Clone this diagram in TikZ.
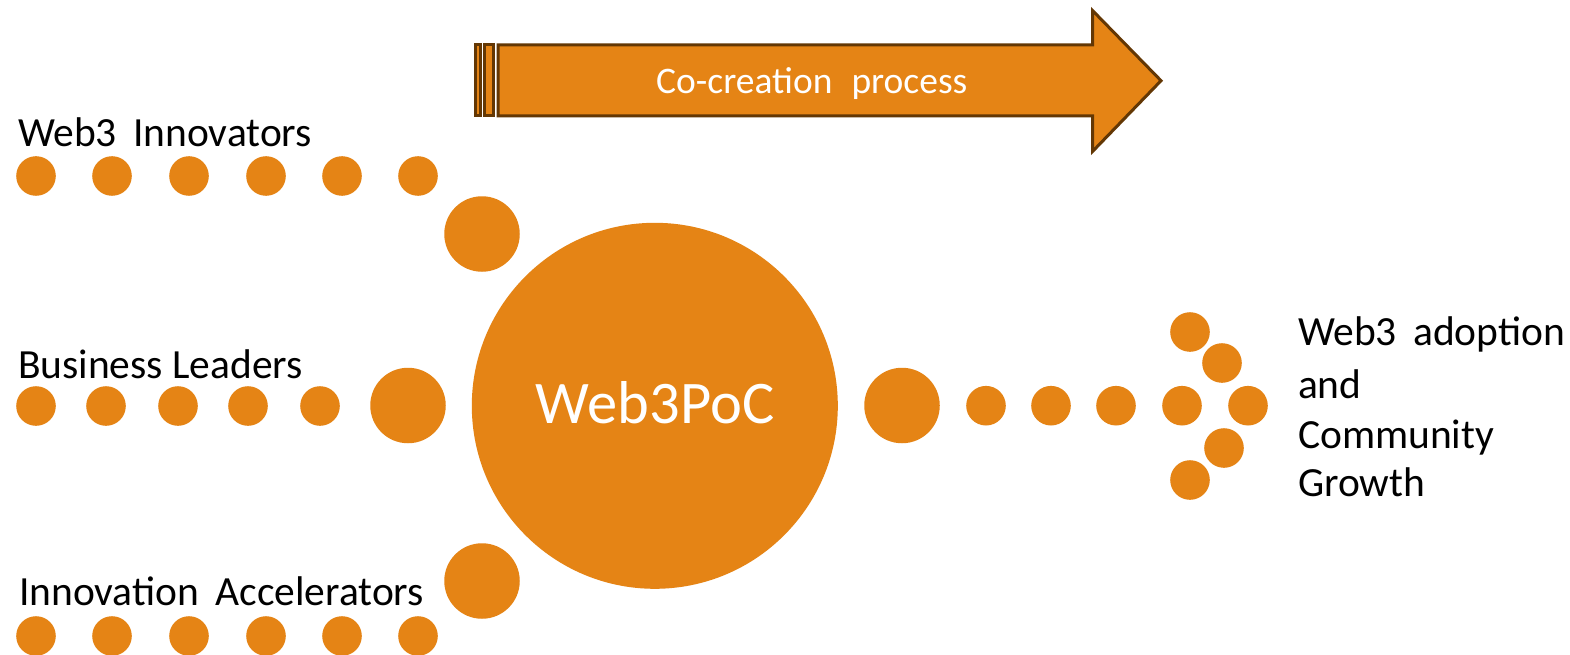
\documentclass[tikz,border=0pt]{standalone}
\usepackage{fontspec}
\setmainfont{Carlito}
\definecolor{orng}{RGB}{229,132,21}
\definecolor{brn}{RGB}{99,55,4}
\tikzset{
  dot/.style={circle, fill=orng, minimum size=39.6pt, inner sep=0pt, outer sep=0pt},
  bigdot/.style={circle, fill=orng, minimum size=75.5pt, inner sep=0pt, outer sep=0pt},
  lbl/.style={inner sep=0pt, outer sep=0pt, text=black, font=\fontsize{41.5}{50.6}\selectfont},
  arrowpart/.style={fill=orng, draw=brn, line width=3pt, line join=miter},
}
\begin{document}
\begin{tikzpicture}[x=1pt, y=-1pt]
\useasboundingbox[fill=white] (0,0) rectangle (1570,655);
% co-creation arrow
\draw[arrowpart] (475.8,45) rectangle (480.2,116);
\draw[arrowpart] (484.8,45) rectangle (493.5,116);
\draw[arrowpart] (498.2,45) -- (1092.5,45) -- (1092.5,10.5) -- (1161,80.7) -- (1092.5,151.5) -- (1092.5,116) -- (498.2,116) -- cycle;
\node[inner sep=0pt, text=white, font=\fontsize{37.5}{45}\selectfont, anchor=base west] (proc) at (656,93.5) {Co-creation\hspace{19pt}process};
% main circle
\node[circle, fill=orng, minimum size=366pt, inner sep=0pt] (main) at (654.8,405.8) {};
\node[inner sep=0pt, text=white, font=\fontsize{60.5}{72}\selectfont, anchor=base] (mainlbl) at (655,423.3) {Web3PoC};
% Web3 Innovators
\node[lbl, anchor=base west] (innov) at (18,146.5) {Web3\ \,Innovators};
\foreach \x [count=\i] in {36,112,189,266,342,418} \node[dot] (t\i) at (\x,176) {};
\node[bigdot] (tb) at (482,234) {};
% Business Leaders
\node[lbl, anchor=base west] (biz) at (18,378) {Business\ Leaders};
\foreach \x [count=\i] in {36,106,178,248,320} \node[dot] (m\i) at (\x,406) {};
\node[bigdot] (mb) at (408,405.5) {};
% Innovation Accelerators
\node[lbl, anchor=base west] (accel) at (19,605.7) {Innovation\ \,Accelerators};
\foreach \x [count=\i] in {36,112,189,266,342,418} \node[dot] (b\i) at (\x,636) {};
\node[bigdot] (bb) at (482,581) {};
% right side
\node[bigdot] (rb) at (902,405.5) {};
\foreach \x [count=\i] in {986,1051,1116,1182,1248} \node[dot] (r\i) at (\x,405.7) {};
\node[dot] (ra) at (1190,332) {};
\node[dot] (rc) at (1222,363) {};
\node[dot] (rd) at (1224,448) {};
\node[dot] (re) at (1190,480) {};
\node[lbl, anchor=base west] (out1) at (1298,345) {Web3\ \,adoption};
\node[lbl, anchor=base west] (out2) at (1298,398.3) {and};
\node[lbl, anchor=base west] (out3) at (1298,448.3) {Community};
\node[lbl, anchor=base west] (out4) at (1298,496.7) {Growth};
\end{tikzpicture}
\end{document}
